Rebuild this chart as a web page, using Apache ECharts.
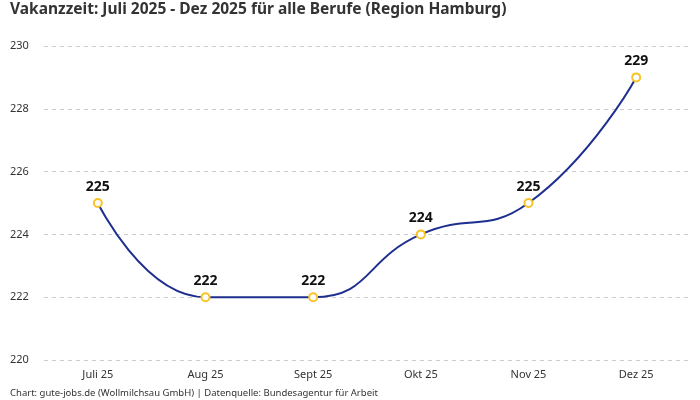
<!DOCTYPE html>
<html>
<head>
<meta charset="utf-8">
<script src="https://cdn.jsdelivr.net/npm/echarts@6/dist/echarts.min.js"></script>
<style>
  html, body { margin: 0; padding: 0; background: #fff; }
  #container { width: 700px; height: 400px; }
</style>
</head>
<body>
<div id="container"></div>
<script>
var months = ['Juli 25', 'Aug 25', 'Sept 25', 'Okt 25', 'Nov 25', 'Dez 25'];
var vakanzzeit = [225, 222, 222, 224, 225, 229];
var yTicks = [220, 222, 224, 226, 228, 230];

var font = '"Noto Sans", sans-serif';

var myChart = echarts.init(document.getElementById('container'));

myChart.setOption({
    animation: false,
    backgroundColor: '#fff',
    textStyle: { fontFamily: font },
    title: [{
        text: 'Vakanzzeit: Juli 2025 - Dez 2025 für alle Berufe (Region Hamburg)',
        left: 10,
        top: 1,
        padding: 0,
        textStyle: { fontSize: 15.5, fontWeight: 'bold', color: '#333', fontFamily: font, lineHeight: 18 }
    }, {
        text: 'Chart: gute-jobs.de (Wollmilchsau GmbH) | Datenquelle: Bundesagentur für Arbeit',
        left: 10,
        top: 387,
        padding: 0,
        textStyle: { fontSize: 9.5, fontWeight: 'normal', color: '#333', fontFamily: font, lineHeight: 12 }
    }],
    grid: { left: 44, right: 10, top: 46, bottom: 40 },
    xAxis: {
        type: 'category',
        data: months,
        axisLine: { show: false },
        axisTick: { show: false },
        axisLabel: { color: '#333', fontSize: 11, margin: 9, fontFamily: font }
    },
    yAxis: {
        type: 'value',
        min: yTicks[0],
        max: yTicks[yTicks.length - 1],
        interval: 2,
        axisLine: { show: false },
        axisTick: { show: false },
        axisLabel: { color: '#333', fontSize: 11, align: 'left', margin: 34, fontFamily: font },
        splitLine: { lineStyle: { color: '#ccc', type: [4, 4], width: 1 } }
    },
    series: [{
        type: 'line',
        data: vakanzzeit,
        smooth: 0.5,
        symbol: 'circle',
        symbolSize: 8,
        lineStyle: { color: '#1e2f8f', width: 2 },
        itemStyle: { color: '#fff', borderColor: '#f7c325', borderWidth: 2 },
        label: {
            show: true,
            position: 'top',
            distance: 4,
            color: '#111',
            fontSize: 14,
            fontWeight: 'bold',
            fontFamily: font
        }
    }]
});
</script>
</body>
</html>
